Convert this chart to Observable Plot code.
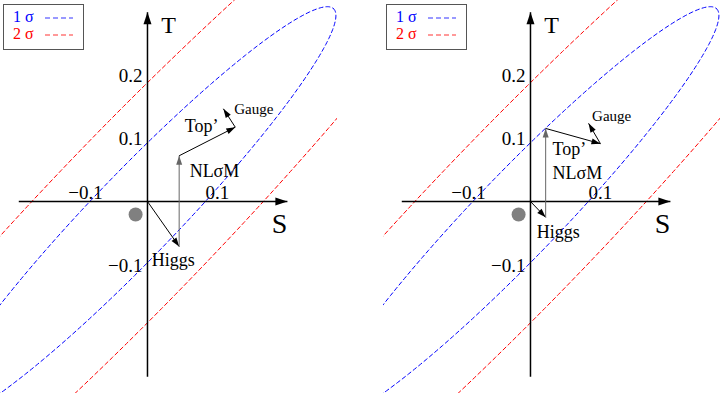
<!DOCTYPE html>
<html><head><meta charset="utf-8">
<script src="https://cdn.jsdelivr.net/npm/d3@7"></script>
<script src="https://cdn.jsdelivr.net/npm/@observablehq/plot@0.6"></script>
<style>
body{margin:0;background:#fff;}
#wrap{position:relative;width:720px;height:393px;overflow:hidden;font-family:"Liberation Serif",serif;}
.panel{position:absolute;top:0;width:337px;height:393px;}
.legend{position:absolute;left:0;top:0;}
</style></head><body><div id="wrap"></div>
<script>
// ---------- data ----------
const ellipseCenter = [-0.018, -0.0205];   // (S, T) of the fit centre (grey dot)
const ellipseMajor = [0.300, 0.324];       // 1σ semi-major axis vector (S, T)
const ellipseMinor = [0.046, -0.046];      // 1σ semi-minor axis vector (S, T)
const sigmaLevels = [1, 2];
const sigmaNames = ["1 σ", "2 σ"];
const sigmaColors = ["blue", "red"];
const sigmaLegendColors = ["#7878ff", "#ff7878"];
const sTicks = [-0.1, 0.1];
const tTicks = [0.2, 0.1, -0.1];
const sAxisExtent = [-0.195, 0.212];
const tAxisExtent = [-0.276, 0.298];
const axisNames = ["S", "T"];
const axisNameS = [0.2, 0.032];
const axisNameT = [-0.035, 0.277];
const contribNames = ["Higgs", "NLσM", "Top’", "Gauge"];
// cumulative end points of each contribution
const leftS = [0.048, 0.048, 0.133, 0.115];
const leftT = [-0.071, 0.072, 0.117, 0.146];
const rightS = [0.023, 0.023, 0.106, 0.088];
const rightT = [-0.025, 0.115, 0.091, 0.123];
// label anchors
const leftLabelS = [0.039, 0.1015, 0.082, 0.161];
const leftLabelT = [-0.093, 0.047, 0.118, 0.146];
const rightLabelS = [0.042, 0.071, 0.059, 0.123];
const rightLabelT = [-0.049, 0.044, 0.082, 0.134];

const xDomain = [-0.2227, 0.2879];
const yDomain = [-0.3024, 0.3165];
const FONT = "Liberation Serif";

// ellipse contours built from the read centre / axes
function ellipse(k) {
  const pts = [];
  for (let i = 0; i <= 360; i++) {
    const a = i * Math.PI / 180, c = Math.cos(a), s = Math.sin(a);
    pts.push({
      S: ellipseCenter[0] + k * (c * ellipseMajor[0] + s * ellipseMinor[0]),
      T: ellipseCenter[1] + k * (c * ellipseMajor[1] + s * ellipseMinor[1]),
      level: k
    });
  }
  return pts;
}
const contours = sigmaLevels.map((k, i) => ({k, color: sigmaColors[i], pts: ellipse(k)}));

function head(len, half) {
  return (color) => {
    const m = d3.create("svg:marker")
      .attr("viewBox", `${-len} ${-half} ${len} ${2 * half}`)
      .attr("markerWidth", len).attr("markerHeight", 2 * half)
      .attr("markerUnits", "userSpaceOnUse")
      .attr("refX", 0).attr("refY", 0)
      .attr("orient", "auto").attr("overflow", "visible");
    m.append("path").attr("d", `M${-len},${-half}L0,0L${-len},${half}Z`).attr("fill", color).attr("stroke", "none");
    return m.node();
  };
}

function segments(S, T) {
  return contribNames.map((name, i) => ({
    name,
    x1: i === 0 ? 0 : S[i - 1], y1: i === 0 ? 0 : T[i - 1],
    x2: S[i], y2: T[i]
  }));
}

function panel(S, T, LS, LT, useCustom) {
  const segs = segments(S, T);
  const labels = contribNames.map((name, i) => ({name, S: LS[i], T: LT[i]}));
  const axHead = useCustom ? head(12, 4) : "arrow";
  const arHead = useCustom ? head(9, 3) : "arrow";
  return Plot.plot({
    width: 337, height: 393, margin: 0,
    x: {domain: xDomain, axis: null},
    y: {domain: yDomain, axis: null},
    style: {background: "transparent", fontFamily: FONT, overflow: "hidden"},
    marks: [
      ...contours.map(c => Plot.line(c.pts, {x: "S", y: "T", stroke: c.color, strokeWidth: 1, strokeDasharray: "4,3", clip: true})),
      Plot.link([{x1: sAxisExtent[0], x2: sAxisExtent[1], y1: 0, y2: 0}], {x1: "x1", x2: "x2", y1: "y1", y2: "y2", stroke: "black", strokeWidth: 1.5, markerEnd: axHead}),
      Plot.link([{x1: 0, x2: 0, y1: tAxisExtent[0], y2: tAxisExtent[1]}], {x1: "x1", x2: "x2", y1: "y1", y2: "y2", stroke: "black", strokeWidth: 1.5, markerEnd: axHead}),
      Plot.dot([{S: ellipseCenter[0], T: ellipseCenter[1]}], {x: "S", y: "T", r: 7, fill: "#808080", stroke: "none"}),
      Plot.link(segs, {x1: "x1", y1: "y1", x2: "x2", y2: "y2",
        stroke: d => d.name === "NLσM" ? "#666" : "black", strokeWidth: 1, markerEnd: arHead}),
      Plot.text(labels.filter(d => d.name !== "Gauge"), {x: "S", y: "T", text: "name", fontSize: 18, fill: "black"}),
      Plot.text(labels.filter(d => d.name === "Gauge"), {x: "S", y: "T", text: "name", fontSize: 15, fill: "black"}),
      Plot.text(tTicks, {x: 0, y: d => d, text: d => d < 0 ? "−" + Math.abs(d) : String(d), textAnchor: "end", dx: -5, dy: 1, fontSize: 19, fill: "black"}),
      Plot.text(sTicks, {x: d => d, y: 0, text: d => d < 0 ? "−" + Math.abs(d) : String(d), dx: 4, dy: -9, fontSize: 19, fill: "black"}),
      Plot.text(axisNames, {x: (d, i) => axisNameS[i], y: (d, i) => axisNameT[i], text: d => d, fontSize: d => d === "S" ? 28 : 24, fill: "black"})
    ]
  });
}

function legend() {
  const svg = d3.create("svg").attr("class", "legend").attr("width", 90).attr("height", 55);
  svg.append("rect").attr("x", 3.5).attr("y", 4.5).attr("width", 80).attr("height", 45)
    .attr("fill", "white").attr("stroke", "#555").attr("stroke-width", 1);
  sigmaNames.forEach((n, i) => {
    svg.append("text").attr("x", 13).attr("y", 22 + i * 17).attr("fill", sigmaColors[i])
      .attr("font-family", FONT).attr("font-size", 16).text(n);
    svg.append("line").attr("x1", 45).attr("x2", 73).attr("y1", 18 + i * 17).attr("y2", 18 + i * 17)
      .attr("stroke", sigmaLegendColors[i]).attr("stroke-width", 1.3).attr("stroke-dasharray", "5,3");
  });
  return svg.node();
}

const wrap = document.getElementById("wrap");
const specs = [[leftS, leftT, leftLabelS, leftLabelT, 0], [rightS, rightT, rightLabelS, rightLabelT, 383]];
for (const [S, T, LS, LT, left] of specs) {
  const div = document.createElement("div");
  div.className = "panel";
  div.style.left = left + "px";
  let chart;
  try { chart = panel(S, T, LS, LT, true); } catch (e) { chart = panel(S, T, LS, LT, false); }
  div.appendChild(chart);
  div.appendChild(legend());
  wrap.appendChild(div);
}
</script></body></html>
